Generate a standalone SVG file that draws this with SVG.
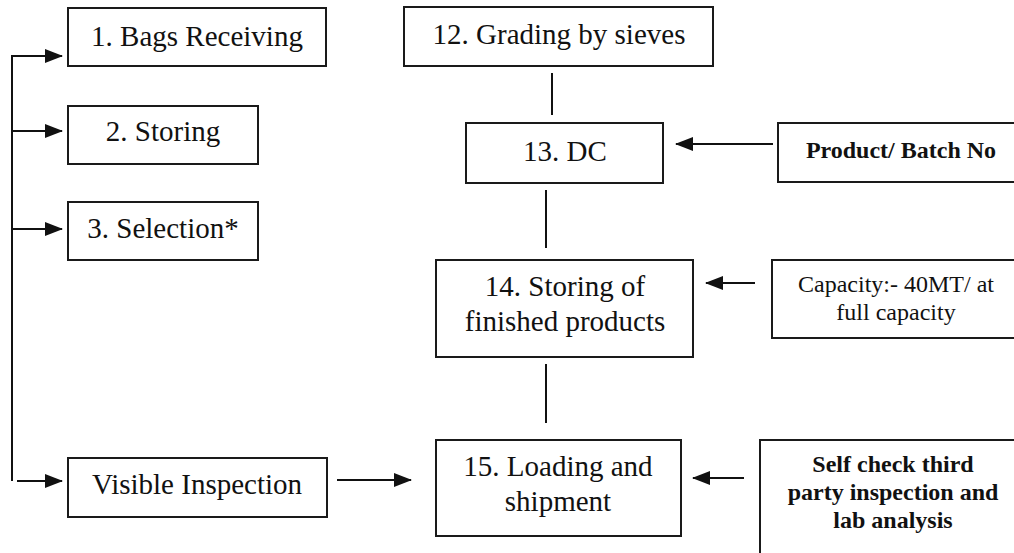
<svg xmlns="http://www.w3.org/2000/svg" width="1014" height="553" viewBox="0 0 1014 553">
<style>
.box{fill:#fff;stroke:#1a1a1a;stroke-width:2}
.t{font-size:29px;fill:#111;text-anchor:middle}
.s{font-size:24px;fill:#111;text-anchor:middle}
.b{font-weight:bold}
.c{stroke:#111;stroke-width:2;fill:none}
</style>
<defs>
<marker id="ah" markerWidth="18" markerHeight="16" refX="17" refY="8" orient="auto" markerUnits="userSpaceOnUse">
<path d="M0,1 L18,8 L0,15 Z" fill="#111"/>
</marker>
</defs>
<g id="connectors">
<path class="c" d="M12,481 V56 H62" marker-end="url(#ah)"/>
<path class="c" d="M12,131 H62" marker-end="url(#ah)"/>
<path class="c" d="M12,229 H62" marker-end="url(#ah)"/>
<path class="c" d="M17,481 H62" marker-end="url(#ah)"/>
<path class="c" d="M337,480 H411" marker-end="url(#ah)"/>
<path class="c" d="M552,73 V115"/>
<path class="c" d="M546,190 V248"/>
<path class="c" d="M546,364 V423"/>
<path class="c" d="M773,144 H676" marker-end="url(#ah)"/>
<path class="c" d="M755,283 H706" marker-end="url(#ah)"/>
<path class="c" d="M744,478 H693" marker-end="url(#ah)"/>
</g>
<g font-family="Liberation Serif, DejaVu Serif, serif">
<g id="n1"><rect class="box" x="68" y="8" width="258" height="58"/><text class="t" x="197" y="46">1. Bags Receiving</text></g>
<g id="n2"><rect class="box" x="68" y="106" width="190" height="58"/><text class="t" x="163" y="141">2. Storing</text></g>
<g id="n3"><rect class="box" x="68" y="202" width="190" height="58"/><text class="t" x="163" y="238">3. Selection*</text></g>
<g id="nvi"><rect class="box" x="68" y="458" width="259" height="59"/><text class="t" x="197" y="494">Visible Inspection</text></g>
<g id="n12"><rect class="box" x="404" y="7" width="309" height="59"/><text class="t" x="559" y="44">12. Grading by sieves</text></g>
<g id="n13"><rect class="box" x="466" y="123" width="197" height="60"/><text class="t" x="565" y="161">13. DC</text></g>
<g id="n14"><rect class="box" x="436" y="260" width="257" height="97"/><text class="t" x="565" y="296">14. Storing of</text><text class="t" x="565" y="331">finished products</text></g>
<g id="n15"><rect class="box" x="436" y="440" width="245" height="96"/><text class="t" x="558" y="476">15. Loading and</text><text class="t" x="558" y="511">shipment</text></g>
<g id="nprod"><rect class="box" x="778" y="123" width="250" height="59"/><text class="s b" x="901" y="158">Product/ Batch No</text></g>
<g id="ncap"><rect class="box" x="772" y="260" width="250" height="78"/><text class="s" x="896" y="292">Capacity:- 40MT/ at</text><text class="s" x="896" y="320">full capacity</text></g>
<g id="nself"><rect class="box" x="760" y="440" width="270" height="130"/><text class="s b" x="893" y="472">Self check third</text><text class="s b" x="893" y="500">party inspection and</text><text class="s b" x="893" y="528">lab analysis</text></g>
</g>
</svg>
